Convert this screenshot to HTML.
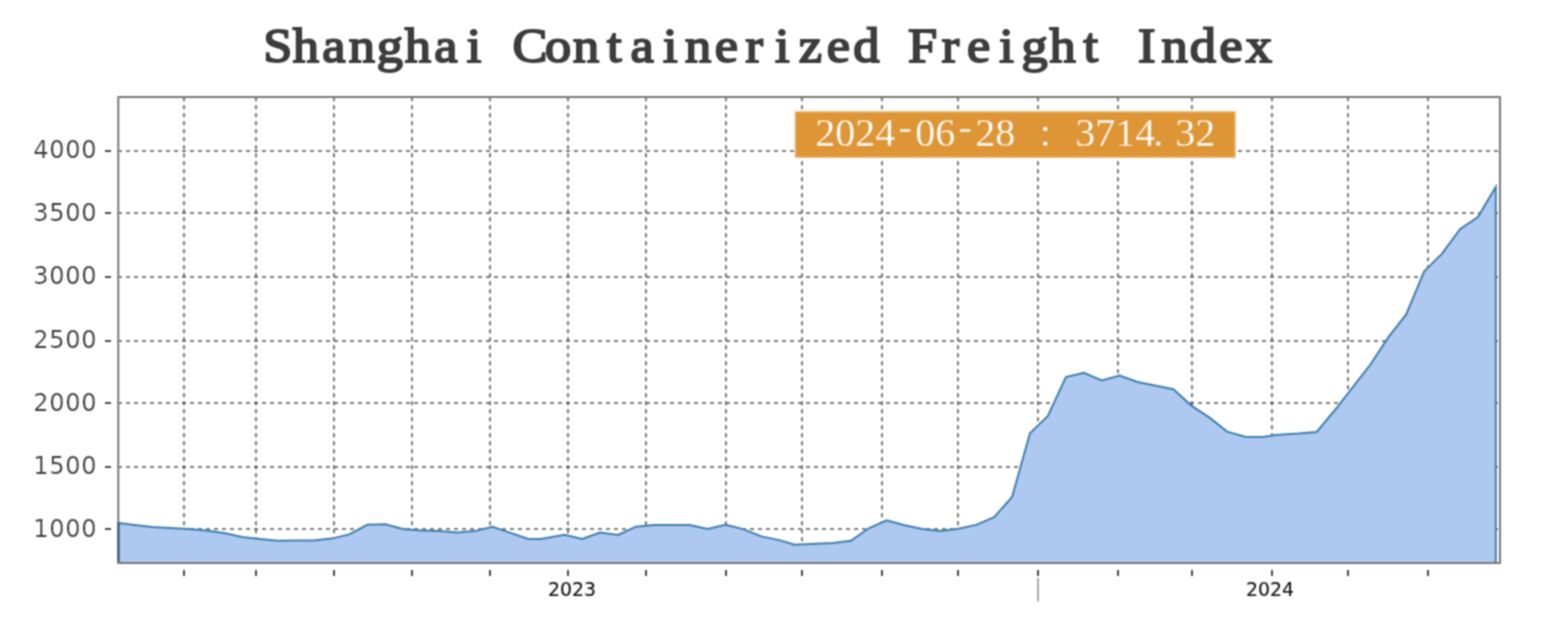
<!DOCTYPE html>
<html lang="en"><head><meta charset="utf-8"><title>Shanghai Containerized Freight Index</title>
<style>
html,body{margin:0;padding:0;background:#fff;}
body{width:1544px;height:638px;overflow:hidden;}
svg{display:block;}
.title{font-family:"Liberation Serif","DejaVu Serif",serif;font-size:48.5px;fill:#3c3c3c;stroke:#3c3c3c;stroke-width:1.9px;text-anchor:middle;}
.ylab{font-family:"DejaVu Sans","Liberation Sans",sans-serif;font-size:24px;fill:#3c3c3c;text-anchor:end;letter-spacing:0.7px;stroke:#fff;stroke-width:0.2px;paint-order:fill stroke;}
.xlab{font-family:"DejaVu Sans","Liberation Sans",sans-serif;font-size:20px;fill:#111;stroke:#111;stroke-width:0.15px;text-anchor:middle;}
.tip{font-family:"Liberation Serif","DejaVu Serif",serif;font-size:40px;fill:#fff;text-anchor:middle;stroke:#dd9536;stroke-width:0.3px;paint-order:fill stroke;}
</style></head><body>
<svg width="1544" height="638" viewBox="0 0 1544 638">
<defs><filter id="up" filterUnits="userSpaceOnUse" x="0" y="0" width="1544" height="638" color-interpolation-filters="sRGB"><feConvolveMatrix order="3" kernelMatrix="1 2 1 2 4 2 1 2 1" divisor="16" edgeMode="duplicate" preserveAlpha="true"/></filter></defs>
<g filter="url(#up)">
<rect x="0" y="0" width="1544" height="638" fill="#fff"/>
<g transform="translate(0,62) scale(1.08,1)"><text class="title" x="257.2 283.2 309.1 335.1 361.0 387.0 412.9 438.9 464.9 490.8 516.8 542.7 568.7 594.6 620.6 646.5 672.5 698.4 724.4 750.3 776.3 802.2 828.2 854.2 880.1 906.1 932.0 958.0 983.9 1009.9 1035.8 1061.8 1087.7 1113.7 1139.6 1165.6" y="0">Shanghai Containerized Freight Index</text></g>
<path d="M184.0 97.25V563.0M256.0 97.25V563.0M334.0 97.25V563.0M412.0 97.25V563.0M490.0 97.25V563.0M568.0 97.25V563.0M646.0 97.25V563.0M726.0 97.25V563.0M802.0 97.25V563.0M882.0 97.25V563.0M958.0 97.25V563.0M1038.0 97.25V563.0M1118.0 97.25V563.0M1192.0 97.25V563.0M1272.0 97.25V563.0M1348.0 97.25V563.0M1428.0 97.25V563.0" fill="none" stroke="#585858" stroke-width="1.6" stroke-dasharray="4 4"/>
<path d="M118 151.0H1500.0M118 213.0H1500.0M118 277.0H1500.0M118 341.0H1500.0M118 403.0H1500.0M118 467.0H1500.0M118 529.0H1500.0" fill="none" stroke="#585858" stroke-width="1.6" stroke-dasharray="4 4"/>
<path d="M118.5 523.1L134.3 525.0L152.2 527.0L188.1 529.0L206.0 530.6L223.9 533.0L241.8 536.9L259.7 539.0L277.6 540.8L295.5 540.4L313.5 540.5L331.4 538.6L349.3 534.4L367.2 524.8L385.1 524.3L403.0 529.0L420.9 530.5L438.9 531.1L456.8 532.5L474.7 531.1L492.6 526.7L510.5 532.9L528.4 539.0L541.2 539.0L564.3 534.8L582.2 539.0L600.1 532.6L618.0 535.0L635.9 526.7L653.8 525.1L671.7 525.1L689.7 525.1L707.6 528.9L725.5 524.8L743.4 529.1L761.3 536.4L779.2 540.1L794.6 544.8L833.0 543.0L850.9 540.8L868.8 528.3L886.7 520.4L904.6 525.2L922.5 529.0L940.5 530.9L958.4 528.7L976.3 524.9L994.2 517.2L1012.1 496.9L1030.0 433.3L1047.9 416.0L1065.9 377.0L1083.8 372.8L1101.7 380.4L1119.6 375.6L1137.5 382.0L1173.3 389.2L1191.3 405.6L1209.2 417.4L1227.1 431.6L1245.0 436.7L1262.9 436.9L1275.7 435.1L1298.8 433.6L1316.7 432.0L1334.6 410.5L1370.4 364.5L1388.3 337.4L1406.2 314.4L1424.2 271.4L1442.1 253.7L1460.0 229.2L1477.9 217.1L1495.8 187.0L1495.8 563.0L118.5 563.0Z" fill="#adc9f1"/>
<path d="M118.5 523.1L134.3 525.0L152.2 527.0L188.1 529.0L206.0 530.6L223.9 533.0L241.8 536.9L259.7 539.0L277.6 540.8L295.5 540.4L313.5 540.5L331.4 538.6L349.3 534.4L367.2 524.8L385.1 524.3L403.0 529.0L420.9 530.5L438.9 531.1L456.8 532.5L474.7 531.1L492.6 526.7L510.5 532.9L528.4 539.0L541.2 539.0L564.3 534.8L582.2 539.0L600.1 532.6L618.0 535.0L635.9 526.7L653.8 525.1L671.7 525.1L689.7 525.1L707.6 528.9L725.5 524.8L743.4 529.1L761.3 536.4L779.2 540.1L794.6 544.8L833.0 543.0L850.9 540.8L868.8 528.3L886.7 520.4L904.6 525.2L922.5 529.0L940.5 530.9L958.4 528.7L976.3 524.9L994.2 517.2L1012.1 496.9L1030.0 433.3L1047.9 416.0L1065.9 377.0L1083.8 372.8L1101.7 380.4L1119.6 375.6L1137.5 382.0L1173.3 389.2L1191.3 405.6L1209.2 417.4L1227.1 431.6L1245.0 436.7L1262.9 436.9L1275.7 435.1L1298.8 433.6L1316.7 432.0L1334.6 410.5L1370.4 364.5L1388.3 337.4L1406.2 314.4L1424.2 271.4L1442.1 253.7L1460.0 229.2L1477.9 217.1L1495.8 187.0L1495.8 562.0" fill="none" stroke="#417ead" stroke-width="2" stroke-linejoin="miter"/>
<rect x="118.3" y="97.0" width="1381.7" height="466.0" fill="none" stroke="#777" stroke-width="2"/>
<path d="M118.5 522.6V562.0" fill="none" stroke="#2f5378" stroke-width="2"/>
<path d="M105 151.0H111M105 213.0H111M105 277.0H111M105 341.0H111M105 403.0H111M105 467.0H111M105 529.0H111M184.0 570V576M256.0 570V576M334.0 570V576M412.0 570V576M490.0 570V576M568.0 570V576M646.0 570V576M726.0 570V576M802.0 570V576M882.0 570V576M958.0 570V576M1038.0 570V576M1118.0 570V576M1192.0 570V576M1272.0 570V576M1348.0 570V576M1428.0 570V576" fill="none" stroke="#4a4a4a" stroke-width="2"/>
<path d="M1038 578V601.5" fill="none" stroke="#aaa" stroke-width="2"/>
<text class="ylab" x="97.2" y="157.7">4000</text>
<text class="ylab" x="97.2" y="221.0">3500</text>
<text class="ylab" x="97.2" y="284.2">3000</text>
<text class="ylab" x="97.2" y="347.6">2500</text>
<text class="ylab" x="97.2" y="410.9">2000</text>
<text class="ylab" x="97.2" y="474.2">1500</text>
<text class="ylab" x="97.2" y="537.4">1000</text>
<text class="xlab" x="572" y="596" textLength="48" lengthAdjust="spacingAndGlyphs">2023</text>
<text class="xlab" x="1270" y="596" textLength="48" lengthAdjust="spacingAndGlyphs">2024</text>
<rect x="795.5" y="111.9" width="439.5" height="45.3" fill="#dd9536" stroke="#eab56f" stroke-width="1.5"/>
<text class="tip" x="825.2 845.2 865.2 885.2 905.2 925.2 945.2 965.2 985.2 1005.2 1025.2 1045.2 1065.2 1085.2 1105.2 1125.2 1145.2 1158.2 1185.2 1205.2" y="146.0 146.0 146.0 146.0 139.5 146.0 146.0 139.5 146.0 146.0 146.0 146.0 146.0 146.0 146.0 146.0 146.0 146.0 146.0 146.0">2024-06-28 : 3714.32</text>
</g></svg></body></html>
